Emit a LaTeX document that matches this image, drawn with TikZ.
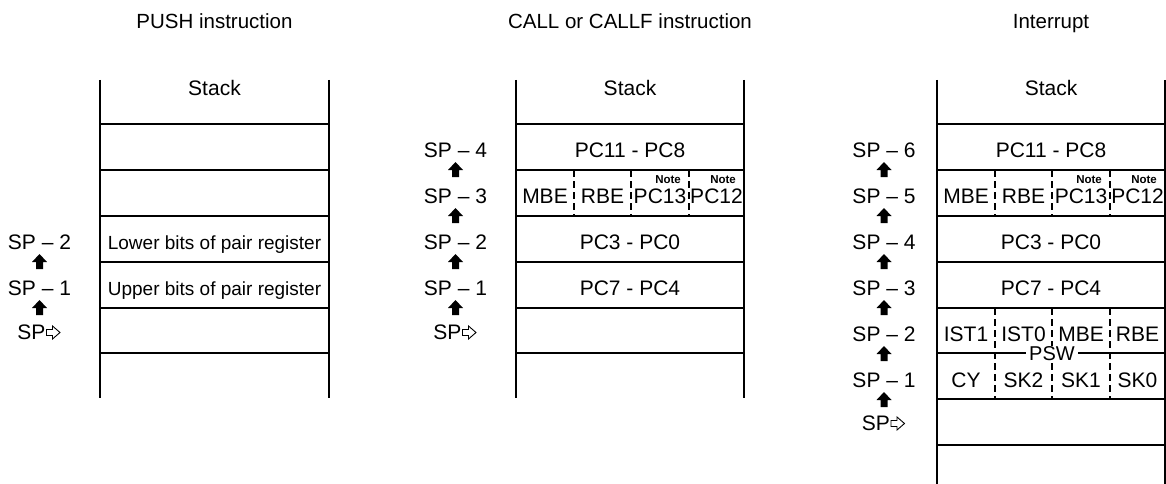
\documentclass[tikz,border=0pt]{standalone}
\usepackage{fontspec}
\setmainfont{Liberation Sans}
\usetikzlibrary{positioning}

\begin{document}
\begin{tikzpicture}[
    x=1pt, y=-1pt,
    wall/.style={line width=2.8pt},
    slot/.style={line width=1.8pt},
    field/.style={line width=1.1pt, dash pattern=on 7pt off 4pt},
    cell/.style={anchor=base, inner sep=0pt, font=\fontsize{21}{25}\selectfont},
    smallcell/.style={cell, font=\fontsize{19}{23}\selectfont},
    note/.style={anchor=base east, inner sep=0pt, font=\fontsize{11.5}{13}\selectfont\bfseries},
    headline/.style={anchor=base, inner sep=0pt, font=\fontsize{20.5}{24}\selectfont},
    spname/.style={anchor=base, inner sep=0pt, font=\fontsize{21}{25}\selectfont},
    sphere/.style={anchor=base east, inner sep=0pt, font=\fontsize{21}{25}\selectfont},
    upmark/.pic={\fill (0,-8) -- (7.5,0) -- (3.5,0) -- (3.5,7) -- (-3.5,7) -- (-3.5,0) -- (-7.5,0) -- cycle;},
    spmark/.pic={\draw[line width=0.9pt, fill=white] (0,-3) -- (6,-3) -- (6,-6.5) -- (13.5,0) -- (6,6.5) -- (6,3) -- (0,3) -- cycle;}
]
\useasboundingbox (0,0) rectangle (1166,484);

% PUSH instruction
\node[headline] (pushtitle) at (214.5,28.5) {PUSH instruction};
\draw[wall] (100,80) -- (100,398);
\draw[wall] (329,80) -- (329,398);
\draw[slot] (100,124) -- (329,124) (100,170) -- (329,170) (100,216) -- (329,216)
            (100,262) -- (329,262) (100,308) -- (329,308) (100,353) -- (329,353);
\node[cell] (pushstack) at (214.5,96) {Stack};
\node[smallcell] (pushlow) at (214.5,249) {Lower bits of pair register};
\node[smallcell] (pushup) at (214.5,295) {Upper bits of pair register};

\node[spname] (pushsp2) at (39.5,249) {SP – 2};
\node[spname] (pushsp1) at (39.5,295) {SP – 1};
\node[sphere] (pushsp) at (45.5,339.5) {SP};
\pic at ([xshift=1pt,yshift=7pt]pushsp.base east) {spmark};
\pic at (39.5,262) {upmark};
\pic at (39.5,308) {upmark};

% CALL or CALLF instruction
\node[headline] (calltitle) at (630,28.5) {CALL or CALLF instruction};
\draw[wall] (516,80) -- (516,398);
\draw[wall] (744,80) -- (744,398);
\draw[slot] (516,124) -- (744,124) (516,170) -- (744,170) (516,216) -- (744,216)
            (516,262) -- (744,262) (516,308) -- (744,308) (516,353) -- (744,353);
\draw[field] (574,170) -- (574,216) (631,170) -- (631,216) (689,170) -- (689,216);
\node[cell] (callstack) at (630,96) {Stack};
\node[cell] (callpchi) at (630,157) {PC11 - PC8};
\node[cell] (callmbe) at (545,203) {MBE};
\node[cell] (callrbe) at (602.5,203) {RBE};
\node[cell] (callpc13) at (660,203) {PC13};
\node[cell] (callpc12) at (716.5,203) {PC12};
\node[note] (callnote1) at (681,183.5) {Note};
\node[note] (callnote2) at (736,183.5) {Note};
\node[cell] (callpclo) at (630,249) {PC3 - PC0};
\node[cell] (callpcmid) at (630,295) {PC7 - PC4};

\node[spname] (callsp4) at (455.5,157) {SP – 4};
\node[spname] (callsp3) at (455.5,203) {SP – 3};
\node[spname] (callsp2) at (455.5,249) {SP – 2};
\node[spname] (callsp1) at (455.5,295) {SP – 1};
\node[sphere] (callsp) at (461.5,339.5) {SP};
\pic at ([xshift=1pt,yshift=7pt]callsp.base east) {spmark};
\pic at (455.5,170) {upmark};
\pic at (455.5,216) {upmark};
\pic at (455.5,262) {upmark};
\pic at (455.5,308) {upmark};

% Interrupt
\node[headline] (inttitle) at (1051,28.5) {Interrupt};
\draw[wall] (937,80) -- (937,484);
\draw[wall] (1165,80) -- (1165,484);
\draw[slot] (937,124) -- (1165,124) (937,170) -- (1165,170) (937,216) -- (1165,216)
            (937,262) -- (1165,262) (937,308) -- (1165,308) (937,353) -- (1165,353)
            (937,399) -- (1165,399) (937,445) -- (1165,445);
\draw[field] (995,170) -- (995,216) (1052,170) -- (1052,216) (1110,170) -- (1110,216);
\draw[field] (995,308) -- (995,399) (1052,308) -- (1052,399) (1110,308) -- (1110,399);
\node[cell] (intstack) at (1051,96) {Stack};
\node[cell] (intpchi) at (1051,157) {PC11 - PC8};
\node[cell] (intmbe) at (966,203) {MBE};
\node[cell] (intrbe) at (1023.5,203) {RBE};
\node[cell] (intpc13) at (1081,203) {PC13};
\node[cell] (intpc12) at (1137.5,203) {PC12};
\node[note] (intnote1) at (1102,183.5) {Note};
\node[note] (intnote2) at (1157,183.5) {Note};
\node[cell] (intpclo) at (1051,249) {PC3 - PC0};
\node[cell] (intpcmid) at (1051,295) {PC7 - PC4};
\node[cell] (intist1) at (966,341) {IST1};
\node[cell] (intist0) at (1023.5,341) {IST0};
\node[cell] (intmbe2) at (1081,341) {MBE};
\node[cell] (intrbe2) at (1137.5,341) {RBE};
\node[cell] (intcy) at (966,387) {CY};
\node[cell] (intsk2) at (1023.5,387) {SK2};
\node[cell] (intsk1) at (1081,387) {SK1};
\node[cell] (intsk0) at (1137.5,387) {SK0};
\node[fill=white, inner xsep=3pt, inner ysep=0.5pt, font=\fontsize{20}{24}\selectfont] (intpsw) at (1052,354) {PSW};

\node[spname] (intsp6) at (884,157) {SP – 6};
\node[spname] (intsp5) at (884,203) {SP – 5};
\node[spname] (intsp4) at (884,249) {SP – 4};
\node[spname] (intsp3) at (884,295) {SP – 3};
\node[spname] (intsp2) at (884,341) {SP – 2};
\node[spname] (intsp1) at (884,387) {SP – 1};
\node[sphere] (intsp) at (890,430.5) {SP};
\pic at ([xshift=1pt,yshift=7pt]intsp.base east) {spmark};
\pic at (884,170) {upmark};
\pic at (884,216) {upmark};
\pic at (884,262) {upmark};
\pic at (884,308) {upmark};
\pic at (884,354) {upmark};
\pic at (884,400) {upmark};

\end{tikzpicture}
\end{document}
